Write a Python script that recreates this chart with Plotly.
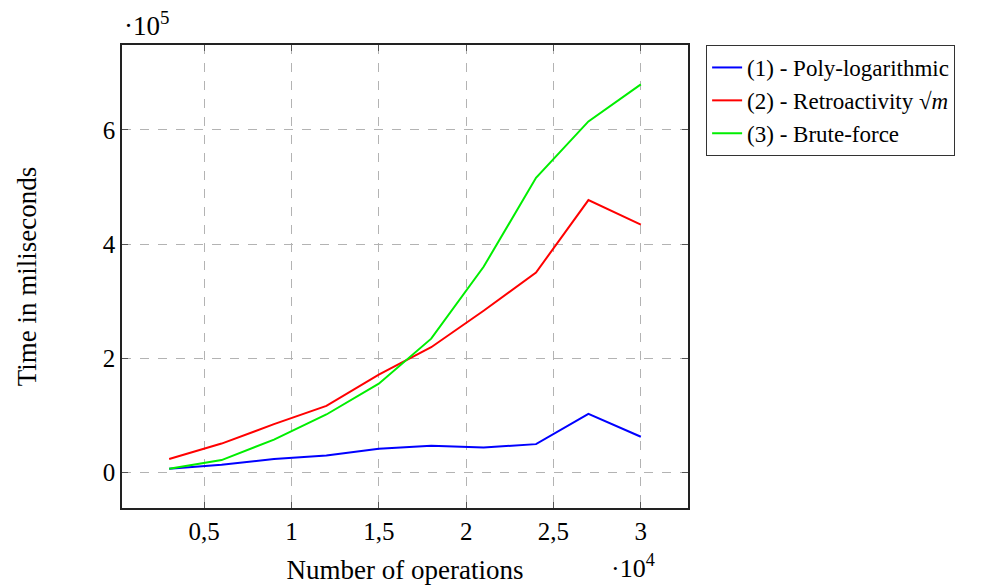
import plotly.graph_objects as go

# Data
operations = [3000, 6000, 9000, 12000, 15000, 18000, 21000, 24000, 27000, 30000]
poly_log = [6000, 13000, 23000, 29000, 41000, 46000, 43000, 49000, 102000, 62000]
retro_sqrt = [23000, 50000, 84000, 116000, 171000, 219000, 283000, 350000, 477000, 434000]
brute_force = [6000, 21000, 57000, 101000, 155000, 234000, 360000, 516000, 615000, 680000]

series_names = ["(1) - Poly-logarithmic", "(2) - Retroactivity \u221a<i>m</i>", "(3) - Brute-force"]
series_colors = ["#0000ff", "#ff0000", "#00ee00"]

x_tick_vals = [0.5, 1, 1.5, 2, 2.5, 3]
x_tick_text = ["0,5", "1", "1,5", "2", "2,5", "3"]
y_tick_vals = [0, 2, 4, 6]
y_tick_text = ["0", "2", "4", "6"]

XS = 1e4
YS = 1e5

fig = go.Figure()
for name, vals, col in zip(series_names, [poly_log, retro_sqrt, brute_force], series_colors):
    fig.add_trace(go.Scatter(
        x=[v / XS for v in operations], y=[v / YS for v in vals],
        mode="lines", name=name, line=dict(color=col, width=2)))

font = "Liberation Serif"
axis_common = dict(
    showline=True, linecolor="#222222", linewidth=1.5, mirror="ticks",
    ticks="inside", ticklen=6, tickcolor="#555555",
    showgrid=True, gridcolor="#b3b3b3", griddash="dash", gridwidth=1,
    zeroline=False, automargin=False,
    tickfont=dict(family=font, size=25, color="black"),
)

fig.update_layout(
    width=977, height=578,
    margin=dict(l=114, r=297, t=37, b=78),
    paper_bgcolor="white", plot_bgcolor="white",
    font=dict(family=font, color="black", size=22),
    xaxis=dict(range=[0.03, 3.27], tickvals=x_tick_vals, ticktext=x_tick_text,
               title=dict(text="Number of operations", font=dict(family=font, size=27), standoff=16),
               **axis_common),
    yaxis=dict(range=[-0.63, 7.49], tickvals=y_tick_vals, ticktext=y_tick_text,
               title=dict(text="Time in miliseconds", font=dict(family=font, size=27), standoff=58),
               **axis_common),
    legend=dict(x=1.032, y=1.0, xanchor="left", yanchor="top",
                bordercolor="#333333", borderwidth=1, bgcolor="white",
                font=dict(family=font, size=23), tracegroupgap=0),
    showlegend=True,
)

fig.add_annotation(text="\u00b710<sup>5</sup>", xref="paper", yref="paper",
                   x=0.0, y=1.0, xanchor="left", yanchor="bottom", yshift=2,
                   showarrow=False, font=dict(family=font, size=27))
fig.add_annotation(text="\u00b710<sup>4</sup>", xref="paper", yref="paper",
                   x=0.86, y=0.0, xanchor="left", yanchor="top", yshift=-40,
                   showarrow=False, font=dict(family=font, size=26))

fig.write_html("out.html")
